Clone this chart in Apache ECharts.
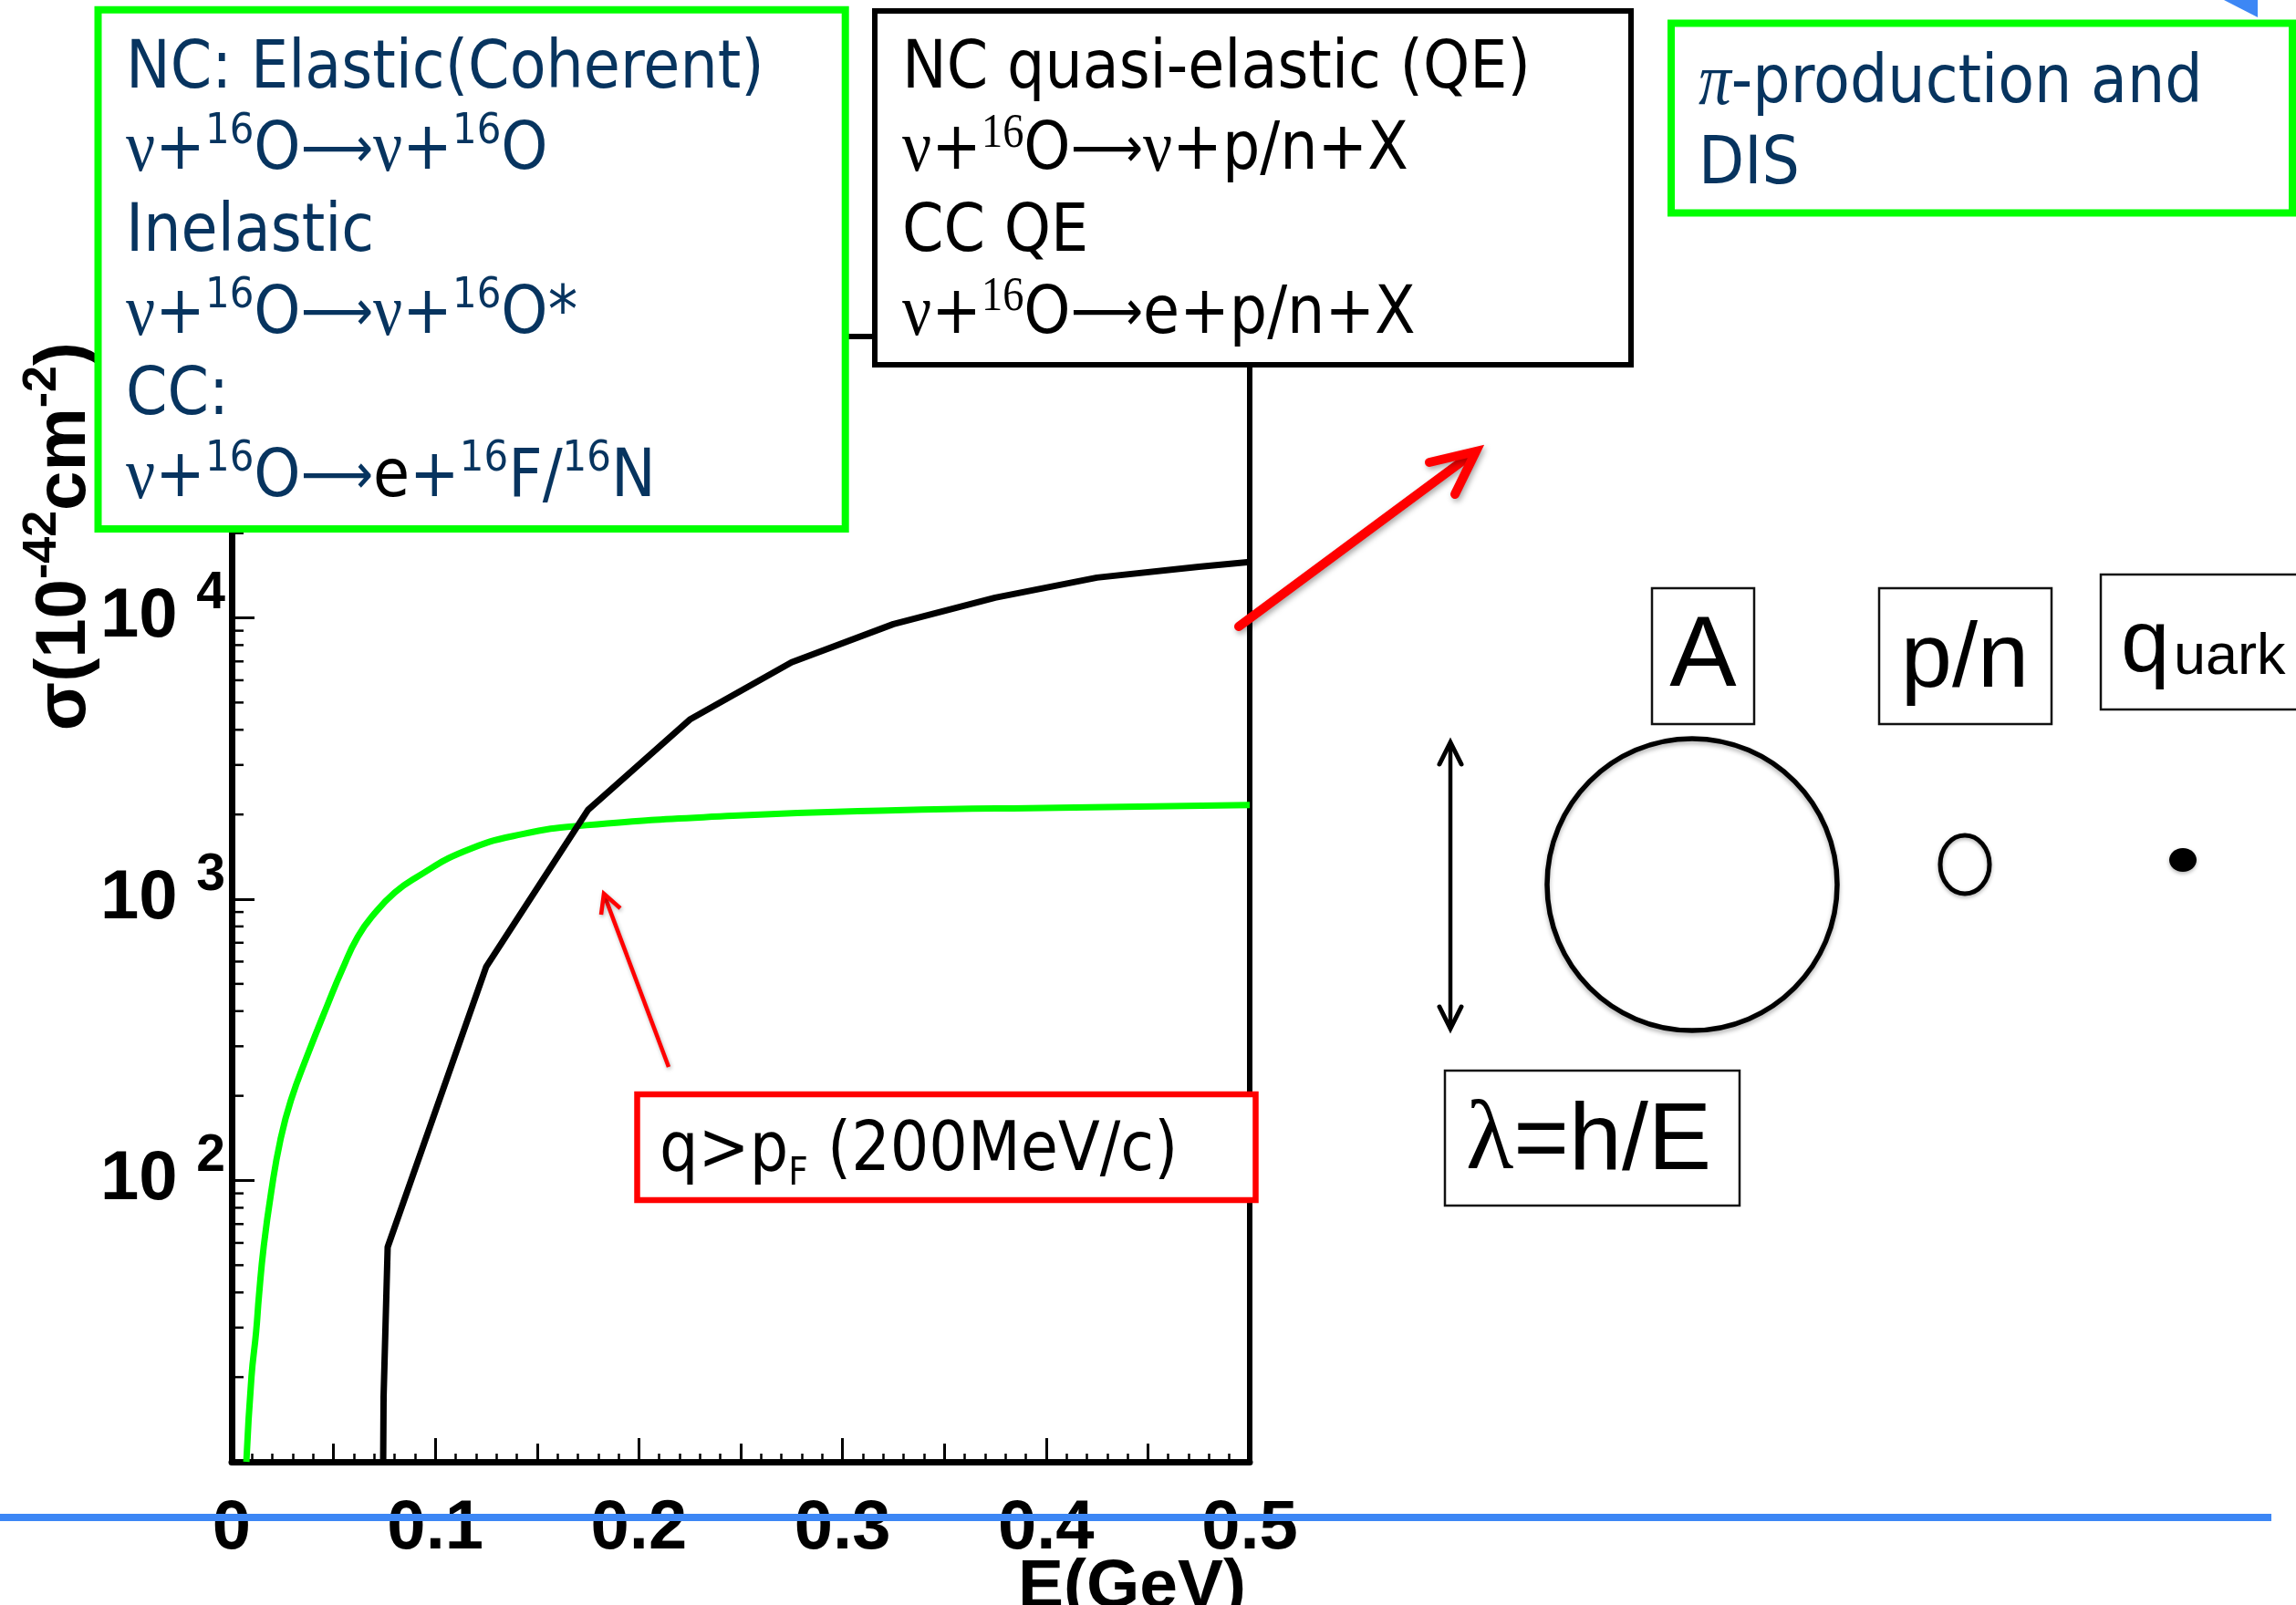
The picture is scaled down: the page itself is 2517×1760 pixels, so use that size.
<!DOCTYPE html>
<html><head><meta charset="utf-8">
<script src="https://cdn.jsdelivr.net/npm/echarts@6/dist/echarts.min.js"></script>
<style>html,body{margin:0;padding:0;background:#fff}#c{width:2517px;height:1760px}</style>
</head><body><div id="c"></div><script>
// ---- data ----
const energyElastic = [0.0072,0.0097,0.0120,0.0134,0.0157,0.0194,0.0239,0.0291,0.0373,0.047,0.0542,0.062,0.0702,0.080,0.0902,0.1142,0.1423,0.1743,0.2463,0.3262,0.4063,0.5];
const sigmaElastic  = [10,20,29,39,58,91,139,193,280,420,560,736,890,1055,1190,1479,1700,1832,1978,2069,2115,2163];
const energyQE = [0.0744,0.0746,0.0766,0.125,0.175,0.225,0.275,0.325,0.375,0.425,0.475,0.5];
const sigmaQE  = [10,17,58,575,2075,4350,6950,9500,11800,13900,15200,15800];
const xTickLabels = ['0','0.1','0.2','0.3','0.4','0.5'];
const yTickExponents = [2,3,4];
const yMinorTicks = [20,30,40,50,60,70,80,90,200,300,400,500,600,700,800,900,2000,3000,4000,5000,6000,7000,8000,9000,20000,30000,40000,50000,60000,70000,80000,90000];
const boxElastic = ['NC: Elastic(Coherent)','{g|ν}+{s|16}O{a|⟶}{g|ν}+{s|16}O','Inelastic','{g|ν}+{s|16}O{a|⟶}{g|ν}+{s|16}O*','CC:','{g|ν}+{s|16}O{a|⟶}{k|e}+{s|16}F/{s|16}N'];
const boxQE = ['NC quasi-elastic (QE)','{g|ν}+{s|16}O{a|⟶}{g|ν}+p/n+X','CC QE','{g|ν}+{s|16}O{a|⟶}e+p/n+X'];
const boxPi = ['{p|π}-production and','DIS'];

const zip = (a,b) => a.map((v,i)=>[v,b[i]]);
const NAVY = '#07345f';
const SANS = 'DejaVu Sans';
const HELV = 'Liberation Sans, Arial, sans-serif';
const SERIF = 'Liberation Serif, DejaVu Serif, serif';
const Z = 100;

const chart = echarts.init(document.getElementById('c'), null, {renderer:'canvas'});

const graphics = [
  // boxes
  {type:'rect', z:Z, shape:{x:107.5,y:10.7,width:819.2,height:569.3}, style:{fill:'#fff',stroke:'#00ff00',lineWidth:8}},
  {type:'rect', z:Z, shape:{x:959,y:12,width:829,height:388}, style:{fill:'#fff',stroke:'#000',lineWidth:6}},
  {type:'rect', z:Z, shape:{x:1832,y:25.5,width:681,height:208}, style:{fill:'#fff',stroke:'#00ff00',lineWidth:8}},
  {type:'rect', z:Z, shape:{x:698.5,y:1200,width:678,height:116}, style:{fill:'#fff',stroke:'#ff0000',lineWidth:6.5}},
  {type:'rect', z:Z, shape:{x:1811,y:645,width:112,height:149}, style:{fill:'none',stroke:'#111',lineWidth:2.5}},
  {type:'rect', z:Z, shape:{x:2060,y:645,width:189,height:149}, style:{fill:'none',stroke:'#111',lineWidth:2.5}},
  {type:'rect', z:Z, shape:{x:2303,y:630,width:240,height:148}, style:{fill:'none',stroke:'#111',lineWidth:2.5}},
  {type:'rect', z:Z, shape:{x:1584,y:1174,width:323,height:148}, style:{fill:'none',stroke:'#111',lineWidth:2.5}},
  // text in boxes
  {type:'text', z:Z+1, x:138, y:32, scaleX:0.893, style:{
    text: boxElastic.join('\n'), fill:NAVY, fontFamily:SANS, fontSize:73, lineHeight:89.6, align:'left', verticalAlign:'top',
    rich:{ g:{fontFamily:SERIF,fontSize:80,lineHeight:89.6,fill:NAVY}, s:{fontFamily:SANS,fontSize:47,lineHeight:64,verticalAlign:'top',fill:NAVY},
           k:{fontFamily:SANS,fontSize:73,lineHeight:89.6,fill:'#000'}, a:{fontFamily:SANS,fontSize:62,lineHeight:89.6,fill:NAVY} }
  }},
  {type:'text', z:Z+1, x:989, y:32, scaleX:0.893, style:{
    text: boxQE.join('\n'), fill:'#000', fontFamily:SANS, fontSize:73, lineHeight:89.6, align:'left', verticalAlign:'top',
    rich:{ g:{fontFamily:SERIF,fontSize:80,lineHeight:89.6,fill:'#000'}, s:{fontFamily:SERIF,fontSize:52,lineHeight:64,verticalAlign:'top',fill:'#000'},
           a:{fontFamily:SANS,fontSize:62,lineHeight:89.6,fill:'#000'} }
  }},
  {type:'text', z:Z+1, x:1862, y:48, scaleX:0.893, style:{
    text: boxPi.join('\n'), fill:NAVY, fontFamily:SANS, fontSize:73, lineHeight:89.6, align:'left', verticalAlign:'top',
    rich:{ p:{fontFamily:SERIF,fontStyle:'italic',fontSize:80,lineHeight:89.6,fill:NAVY} }
  }},
  {type:'text', z:Z+1, x:723, y:1264, scaleX:0.893, style:{
    text:'q>p{f|F} (200MeV/c)', fill:'#000', fontFamily:SANS, fontSize:75, lineHeight:90, align:'left', verticalAlign:'middle',
    rich:{ f:{fontFamily:SANS,fontSize:42,lineHeight:43,verticalAlign:'bottom',fill:'#000'} }
  }},
  // right-hand diagram
  {type:'text', z:Z+1, x:1867, y:722, style:{text:'A', fill:'#000', fontFamily:HELV, fontSize:110, align:'center', verticalAlign:'middle'}},
  {type:'text', z:Z+1, x:2154, y:725, style:{text:'p/n', fill:'#000', fontFamily:HELV, fontSize:101, align:'center', verticalAlign:'middle'}},
  {type:'text', z:Z+1, x:2325, y:710, style:{text:'q', fill:'#000', fontFamily:HELV, fontSize:96, align:'left', verticalAlign:'middle'}},
  {type:'text', z:Z+1, x:2383, y:722, style:{text:'uark', fill:'#000', fontFamily:HELV, fontSize:63, align:'left', verticalAlign:'middle'}},
  {type:'text', z:Z+1, x:1607, y:1253, style:{text:'{l|λ}=h/E', fill:'#000', fontFamily:HELV, fontSize:104, lineHeight:110, align:'left', verticalAlign:'middle',
    rich:{ l:{fontFamily:SERIF,fontSize:108,lineHeight:110,fill:'#000'} }}},
  {type:'ellipse', z:Z, shape:{cx:1855,cy:970,rx:159,ry:160}, style:{fill:'none',stroke:'#000',lineWidth:5.5,shadowBlur:5,shadowColor:'rgba(0,0,0,0.3)',shadowOffsetY:3}},
  {type:'ellipse', z:Z, shape:{cx:2154,cy:948,rx:27,ry:32}, style:{fill:'none',stroke:'#000',lineWidth:5,shadowBlur:4,shadowColor:'rgba(0,0,0,0.3)',shadowOffsetY:2}},
  {type:'ellipse', z:Z, shape:{cx:2393,cy:943,rx:15,ry:13}, style:{fill:'#000',shadowBlur:4,shadowColor:'rgba(0,0,0,0.3)',shadowOffsetY:2}},
  {type:'line', z:Z, shape:{x1:1590,y1:815,x2:1590,y2:1127}, style:{stroke:'#000',lineWidth:4.5}},
  {type:'polyline', z:Z, shape:{points:[[1578,838],[1590,814],[1602,838]]}, style:{fill:'none',stroke:'#000',lineWidth:5,lineCap:'round'}},
  {type:'polyline', z:Z, shape:{points:[[1578,1104],[1590,1128],[1602,1104]]}, style:{fill:'none',stroke:'#000',lineWidth:5,lineCap:'round'}},
  // red arrows
  {type:'line', z:Z, shape:{x1:1358,y1:687,x2:1608,y2:502}, style:{stroke:'#ff0000',lineWidth:10,lineCap:'round',shadowBlur:6,shadowColor:'rgba(0,0,0,0.35)',shadowOffsetX:2,shadowOffsetY:3}},
  {type:'polyline', z:Z, shape:{points:[[1567,507],[1618,495],[1595,542]]}, style:{fill:'none',stroke:'#ff0000',lineWidth:10,lineCap:'round',lineJoin:'miter',shadowBlur:6,shadowColor:'rgba(0,0,0,0.35)',shadowOffsetX:2,shadowOffsetY:3}},
  {type:'line', z:Z, shape:{x1:733,y1:1170,x2:663,y2:983}, style:{stroke:'#ff0000',lineWidth:4.5,shadowBlur:4,shadowColor:'rgba(0,0,0,0.3)',shadowOffsetX:1,shadowOffsetY:2}},
  {type:'polyline', z:Z, shape:{points:[[659,1003],[662,980],[680,996]]}, style:{fill:'none',stroke:'#ff0000',lineWidth:4.5,lineJoin:'miter',shadowBlur:4,shadowColor:'rgba(0,0,0,0.3)',shadowOffsetX:1,shadowOffsetY:2}},
  // axis titles
  {type:'text', z:Z-1, x:1366, y:1741, style:{text:'E(GeV)', fill:'#000', fontFamily:HELV, fontWeight:'bold', fontSize:75, align:'right', verticalAlign:'middle'}},
  {type:'text', z:Z-1, x:71, y:375, rotation:Math.PI/2, style:{text:'σ(10{s|-42}cm{s|-2})', fill:'#000', fontFamily:HELV, fontWeight:'bold', fontSize:78, lineHeight:100, align:'right', verticalAlign:'middle',
    rich:{ s:{fontFamily:HELV,fontWeight:'bold',fontSize:52,lineHeight:30,verticalAlign:'top',fill:'#000'} }}},
  // blue slide decorations
  {type:'line', z:Z+5, shape:{x1:0,y1:1664,x2:2490,y2:1664}, style:{stroke:'#3d87f5',lineWidth:8}},
  {type:'polygon', z:Z+5, shape:{points:[[2438,0],[2475,0],[2475,19]]}, style:{fill:'#3d87f5'}}
];

const option = {
  animation:false,
  backgroundColor:'#fff',
  grid:{left:254,right:1147,top:369,bottom:157,show:true,borderColor:'#000',borderWidth:6,backgroundColor:'transparent'},
  xAxis:[
    {type:'value',min:0,max:0.5,interval:0.1,position:'bottom',
     axisLine:{show:true,onZero:false,lineStyle:{color:'#000',width:7}},
     axisTick:{show:true,inside:true,length:26,lineStyle:{color:'#000',width:3}},
     minorTick:{show:true,splitNumber:10,length:9,lineStyle:{color:'#000',width:2.5}},
     splitLine:{show:false},
     axisLabel:{margin:36,fontSize:76,lineHeight:76,fontWeight:'bold',fontFamily:HELV,color:'#000',
       formatter:v=>{const i=Math.round(v*10);return xTickLabels[i]!==undefined?xTickLabels[i]:'';}}},
    {type:'value',min:0,max:0.5,interval:0.05,position:'bottom',
     axisLine:{show:false},axisLabel:{show:false},splitLine:{show:false},
     axisTick:{show:true,inside:true,length:20,lineStyle:{color:'#000',width:3}}}
  ],
  yAxis:{type:'log',logBase:10,min:10,max:100000,
     axisLine:{show:true,onZero:false,lineStyle:{color:'#000',width:7}},
     axisTick:{show:true,inside:true,length:25,lineStyle:{color:'#000',width:3}},
     minorTick:{show:false},
     splitLine:{show:false},
     axisLabel:{margin:7,fontSize:75,fontWeight:'bold',fontFamily:HELV,color:'#000',
       formatter:v=>{const e=Math.round(Math.log10(v));return yTickExponents.includes(e)?'{b|10} {e|'+e+'}':'';},
       rich:{b:{fontSize:76,lineHeight:109,fontWeight:'bold',fontFamily:HELV,color:'#000'},
             e:{fontSize:57,lineHeight:40,verticalAlign:'top',fontWeight:'bold',fontFamily:HELV,color:'#000'}}}},
  series:[
    {name:'NC elastic (coherent)',type:'line',xAxisIndex:0,yAxisIndex:0,data:zip(energyElastic,sigmaElastic),
     showSymbol:false,smooth:0.5,lineStyle:{color:'#00ff00',width:7},z:3},
    {name:'quasi-elastic',type:'line',xAxisIndex:0,yAxisIndex:0,data:zip(energyQE,sigmaQE),
     showSymbol:false,smooth:false,lineStyle:{color:'#000',width:7},z:4},
    {name:'y minor ticks',type:'custom',xAxisIndex:0,yAxisIndex:0,silent:true,clip:false,z:5,
     data:yMinorTicks.map(v=>[0,v]),
     renderItem:(params,api)=>{const p=api.coord([0,api.value(1)]);
       return {type:'line',shape:{x1:p[0],y1:p[1],x2:p[0]+13,y2:p[1]},style:{stroke:'#000',lineWidth:2.5}};}}
  ],
  graphic:graphics
};
chart.setOption(option);
</script></body></html>
